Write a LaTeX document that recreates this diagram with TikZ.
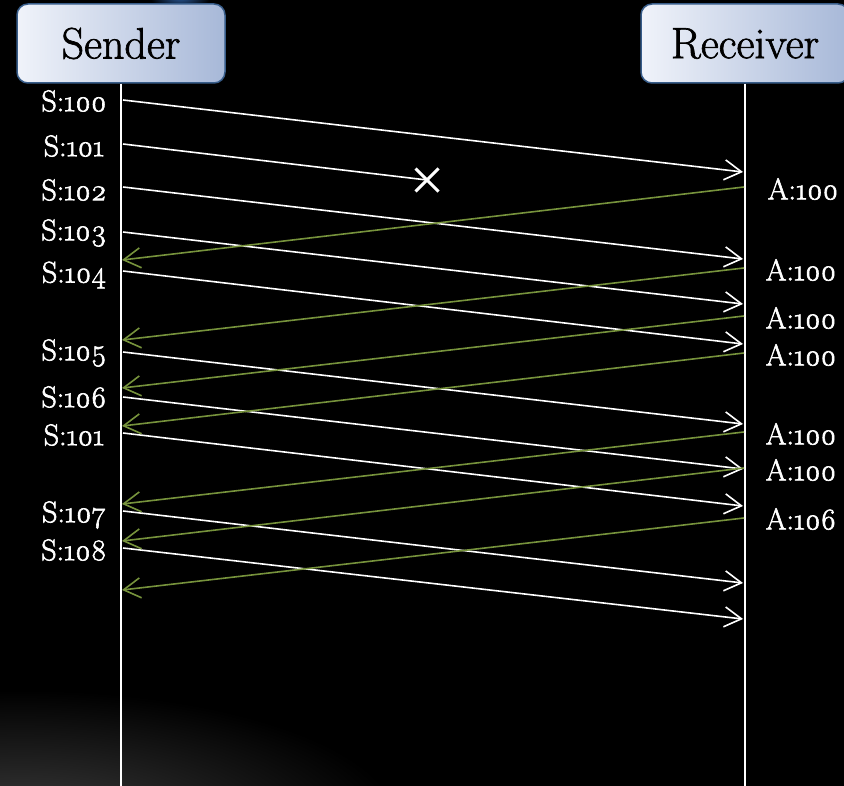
\documentclass[tikz,border=0pt]{standalone}
\usepackage{fontspec}
\setmainfont{Latin Modern Roman}[Numbers=OldStyle]
\newfontfamily\lblfont{Latin Modern Roman}[Numbers=OldStyle, RawFeature={embolden=2}]
\newfontfamily\actfont{Latin Modern Roman}[RawFeature={embolden=1.5}]
\usetikzlibrary{arrows.meta,shapes.misc}
\definecolor{ackgreen}{HTML}{77933C}
\definecolor{boxleft}{HTML}{F0F3FA}
\definecolor{boxright}{HTML}{A7B8D8}
\definecolor{boxborder}{HTML}{385D8A}
\definecolor{glowgray}{HTML}{3C3C3C}
\definecolor{glowblue}{HTML}{2A5A9A}
\tikzset{
  actor/.style={draw=boxborder, line width=1.5pt, rounded corners=11pt,
    left color=boxleft, right color=boxright, minimum width=208pt,
    minimum height=79pt, inner sep=0pt, text=black,
    font=\actfont\fontsize{44}{50}\selectfont},
  lifeline/.style={draw=white, line width=1.8pt},
  seg/.style={draw=white, line width=1.6pt,
    -{Straight Barb[length=17pt,width=20pt,line width=1.6pt]}},
  ack/.style={draw=ackgreen, line width=1.6pt,
    -{Straight Barb[length=17pt,width=20pt,line width=1.6pt]}},
  lbl/.style={text=white, inner sep=0pt, font=\lblfont\fontsize{30}{34}\selectfont},
  xmark/.style={cross out, draw=white, line width=3pt, minimum size=20pt, inner sep=0pt}
}
\begin{document}
\begin{tikzpicture}[x=1pt,y=-1pt]
\useasboundingbox (0,0) rectangle (844,786);
\fill[black] (0,0) rectangle (844,786);
\begin{scope}
  \clip (0,0) rectangle (844,786);
  \shade[inner color=glowgray, outer color=black] (-360,690) rectangle (400,960);
  \shade[inner color=glowblue, outer color=black] (150,-20) rectangle (210,12);
\end{scope}

% actors
\node[actor] (sender) at (121,43.5) {Sender};
\node[actor] (receiver) at (745,43.5) {Receiver};
\coordinate (sbot) at (121,786);
\coordinate (rbot) at (745,786);
\draw[lifeline] (sender.south) -- (sbot);
\draw[lifeline] (receiver.south) -- (rbot);

% endpoints of segments (sender side s, receiver side r)
\coordinate (s1) at (123,100);  \coordinate (r1) at (743,172);
\coordinate (s2) at (123,144);
\coordinate (s3) at (123,187);  \coordinate (r3) at (743,259);
\coordinate (s4) at (123,232);  \coordinate (r4) at (743,304);
\coordinate (s5) at (123,271);  \coordinate (r5) at (743,344);
\coordinate (s6) at (123,352);  \coordinate (r6) at (743,424);
\coordinate (s7) at (123,397);  \coordinate (r7) at (743,469);
\coordinate (s8) at (123,433);  \coordinate (r8) at (743,506);
\coordinate (s9) at (123,511);  \coordinate (r9) at (743,583);
\coordinate (s10) at (123,548); \coordinate (r10) at (743,619);

\node[xmark] (lost) at (427,180) {};

\draw[seg] (s1) -- (r1);
\draw[white, line width=1.6pt] (s2) -- (lost.center);
\draw[seg] (s3) -- (r3);
\draw[seg] (s4) -- (r4);
\draw[seg] (s5) -- (r5);
\draw[seg] (s6) -- (r6);
\draw[seg] (s7) -- (r7);
\draw[seg] (s8) -- (r8);
\draw[seg] (s9) -- (r9);
\draw[seg] (s10) -- (r10);

% acks (receiver side a, sender side b)
\coordinate (a1) at (744,187);  \coordinate (b1) at (122,260);
\coordinate (a2) at (744,268);  \coordinate (b2) at (122,340);
\coordinate (a3) at (744,316);  \coordinate (b3) at (122,388);
\coordinate (a4) at (744,353);  \coordinate (b4) at (122,426);
\coordinate (a5) at (744,432);  \coordinate (b5) at (122,504);
\coordinate (a6) at (744,468);  \coordinate (b6) at (122,541);
\coordinate (a7) at (744,518);  \coordinate (b7) at (122,590);
\draw[ack] (a1) -- (b1);
\draw[ack] (a2) -- (b2);
\draw[ack] (a3) -- (b3);
\draw[ack] (a4) -- (b4);
\draw[ack] (a5) -- (b5);
\draw[ack] (a6) -- (b6);
\draw[ack] (a7) -- (b7);

% sender labels
\node[lbl] (l1) at (74,101) {S:100};
\node[lbl] (l2) at (74,146) {S:101};
\node[lbl] (l3) at (74,190) {S:102};
\node[lbl] (l4) at (74,233) {S:103};
\node[lbl] (l5) at (74,275) {S:104};
\node[lbl] (l6) at (74,353) {S:105};
\node[lbl] (l7) at (74,397) {S:106};
\node[lbl] (l8) at (74,435) {S:101};
\node[lbl] (l9) at (74,515) {S:107};
\node[lbl] (l10) at (74,550) {S:108};

% receiver labels
\node[lbl] (m1) at (803,189) {A:100};
\node[lbl] (m2) at (801,270) {A:100};
\node[lbl] (m3) at (801,318) {A:100};
\node[lbl] (m4) at (801,355) {A:100};
\node[lbl] (m5) at (801,434) {A:100};
\node[lbl] (m6) at (801,470) {A:100};
\node[lbl] (m7) at (801,519) {A:106};
\end{tikzpicture}
\end{document}
